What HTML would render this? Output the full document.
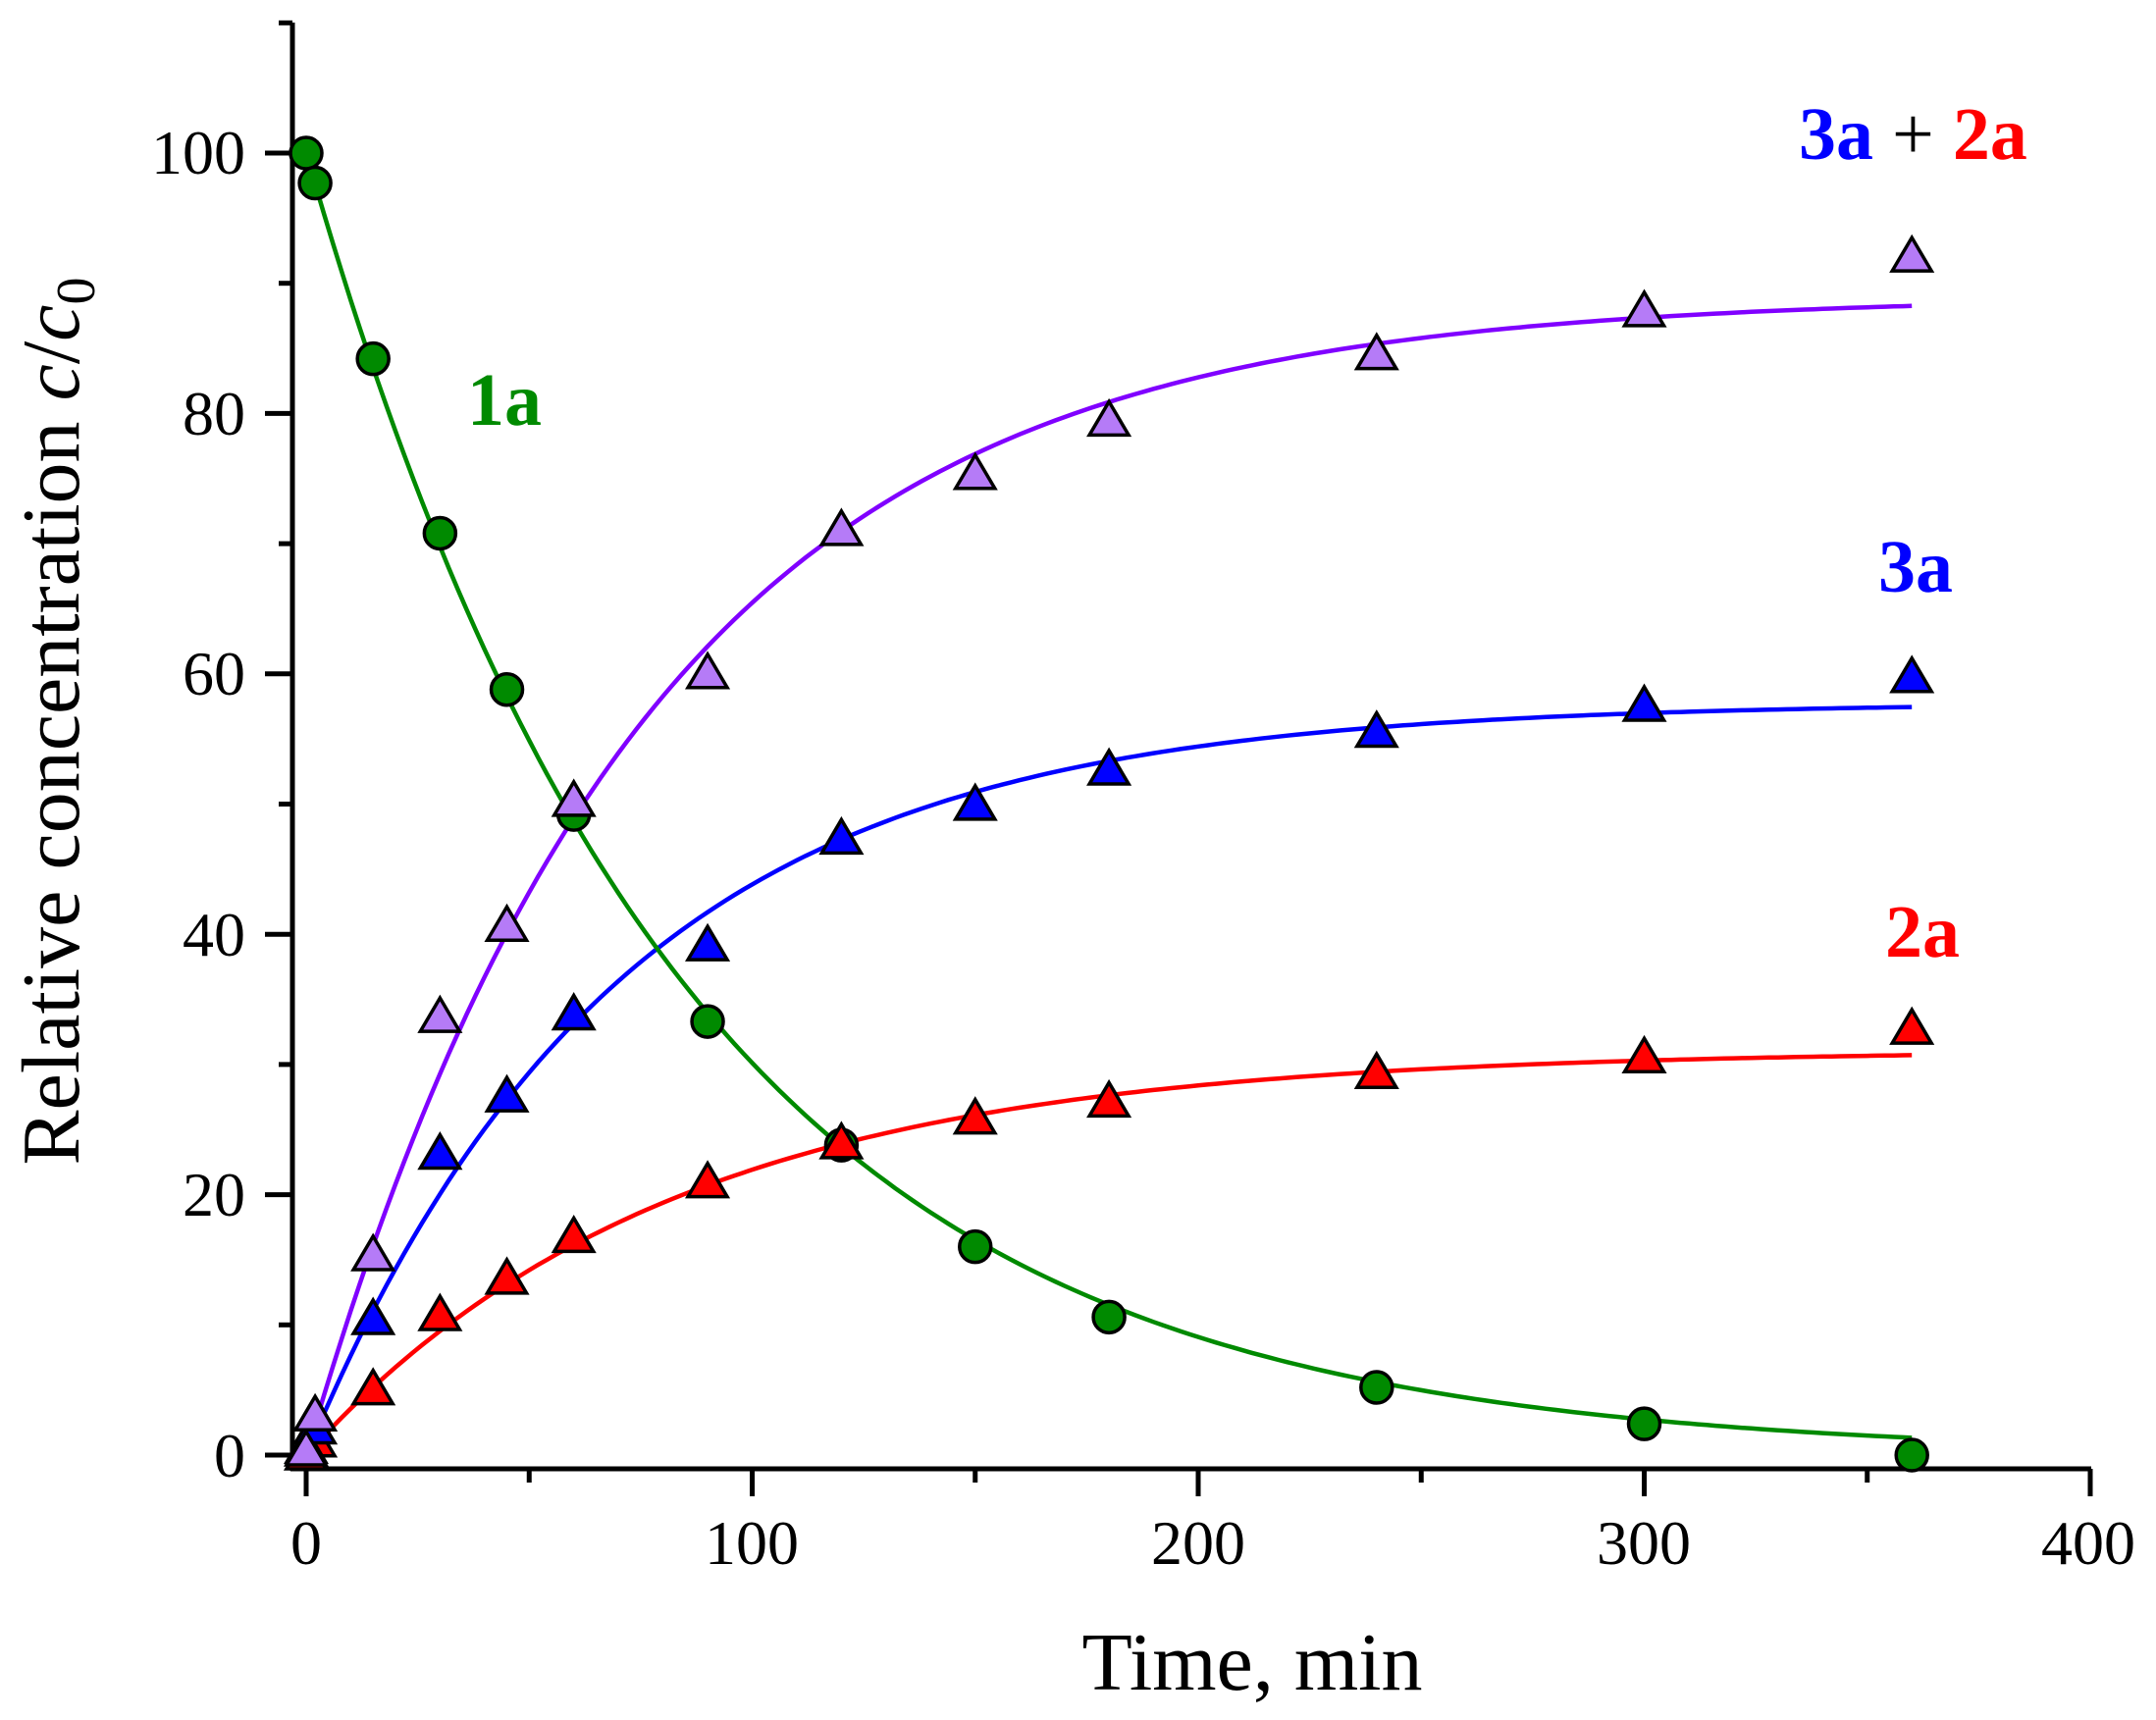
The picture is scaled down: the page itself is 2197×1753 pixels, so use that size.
<!DOCTYPE html>
<html><head><meta charset="utf-8"><style>
html,body{margin:0;padding:0;background:#fff;}
svg{display:block;}
text{font-family:"Liberation Serif",serif;}
</style></head><body>
<svg id="s" width="2197" height="1753" viewBox="0 0 2197 1753" xmlns="http://www.w3.org/2000/svg">
<g id="axes" stroke="#000" stroke-width="5" fill="none">
<line x1="298" y1="23" x2="298" y2="1499"/>
<line x1="296" y1="1497" x2="2131" y2="1497"/>
</g>
<g id="ticks" stroke="#000" stroke-width="5"></g>
<g font-size="64" text-anchor="end" fill="#000">
<text x="250" y="1505">0</text>
<text x="250" y="1239">20</text>
<text x="250" y="974">40</text>
<text x="250" y="708">60</text>
<text x="250" y="443">80</text>
<text x="250" y="177">100</text>
</g>
<g font-size="64" text-anchor="middle" fill="#000">
<text x="312" y="1594">0</text>
<text x="766" y="1594">100</text>
<text x="1221" y="1594">200</text>
<text x="1675" y="1594">300</text>
<text x="2128" y="1594">400</text>
</g>
<text x="1276" y="1722" font-size="84" text-anchor="middle">Time, min</text>
<text transform="translate(80,735) rotate(-90)" font-size="84" text-anchor="middle">Relative concentration <tspan font-style="italic">c</tspan>/<tspan font-style="italic">c</tspan><tspan font-size="56" dy="16">0</tspan></text>
<g id="curves" fill="none" stroke-width="4.5"></g>
<g id="marks" stroke="#000" stroke-width="3.5"></g>
<g font-size="76" font-weight="bold">
<text x="476" y="433" fill="#008a00">1a</text>
<text x="1833" y="162"><tspan fill="#0000ff">3a</tspan><tspan fill="#000" font-weight="normal"> + </tspan><tspan fill="#ff0000">2a</tspan></text>
<text x="1914" y="603" fill="#0000ff">3a</text>
<text x="1921" y="975" fill="#ff0000">2a</text>
</g>
</svg>
<script>
var X=function(t){return 312+t*4.545;},Y=function(v){return 1483-v*13.27;};
var NS="http://www.w3.org/2000/svg";
function el(p,n,a){var e=document.createElementNS(NS,n);for(var k in a)e.setAttribute(k,a[k]);document.getElementById(p).appendChild(e);return e;}
for(var v=0;v<=110;v+=10){var maj=v%20==0&&v<=100;el("ticks","line",{x1:maj?270:284,y1:Y(v),x2:298,y2:Y(v)});}
for(var t=0;t<=400;t+=50){var maj=t%100==0;el("ticks","line",{x1:X(t),y1:1497,x2:X(t),y2:maj?1525:1511});}
function curve(f,t0,c){var d="";for(var t=t0;t<=360;t+=2){d+=(t==t0?"M":"L")+X(t).toFixed(1)+","+Y(f(t)).toFixed(1);}el("curves","path",{d:d,stroke:c});}
curve(function(t){return 89*(1-Math.exp(-0.0133*t));},0,"#8000ff");
curve(function(t){return 57.8*(1-Math.exp(-0.0142*t));},0,"#0000ff");
curve(function(t){return 31.1*(1-Math.exp(-0.0122*t));},0,"#ff0000");
curve(function(t){return 100*Math.exp(-0.012*t);},2,"#008a00");
var T=[0,2,15,30,45,60,90,120,150,180,240,300,360];
var g=[100,97.7,84.2,70.8,58.8,49.2,33.3,23.8,16,10.6,5.2,2.4,0];
var p=[0.3,3,15.3,33.6,40.6,50.2,60,71,75.3,79.4,84.5,87.8,92];
var b=[0.5,2,10.4,23.1,27.5,33.8,39.1,47.3,49.9,52.6,55.5,57.5,59.7];
var r=[0,1,5,10.7,13.5,16.7,20.9,23.9,25.8,27.1,29.3,30.5,32.7];
function tri(x,y,c){el("marks","path",{d:"M"+x+","+(y-20)+"L"+(x+20)+","+(y+14)+"L"+(x-20)+","+(y+14)+"Z",fill:c,"stroke-linejoin":"miter"});}
for(var i=0;i<T.length;i++){el("marks","circle",{cx:X(T[i]),cy:Y(g[i]),r:16,fill:"#008a00"});}
for(var i=0;i<T.length;i++)tri(X(T[i]),Y(r[i]),"#ff0000");
for(var i=0;i<T.length;i++)tri(X(T[i]),Y(b[i]),"#0000ff");
for(var i=0;i<T.length;i++)tri(X(T[i]),Y(p[i]),"#b57bf7");
</script>
</body></html>
